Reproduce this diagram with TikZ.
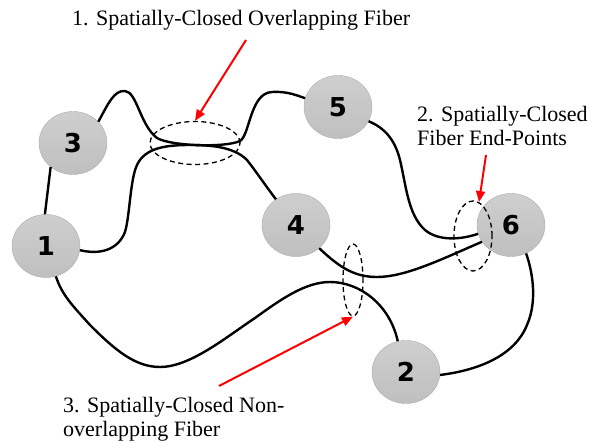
\documentclass[tikz,border=0pt]{standalone}
\usepackage{fontspec}
\setmainfont{Liberation Serif}
\newfontfamily\numfont{DejaVu Sans}
\usetikzlibrary{shapes.geometric}
\usetikzlibrary{arrows.meta}
\newcommand{\labelsize}{\fontsize{22}{24}\selectfont}
\tikzset{fibnode/.style={ellipse,minimum width=68pt,minimum height=63pt,inner sep=0pt,
	draw=gray!65,top color=gray!38,bottom color=gray!50,font=\numfont\bfseries\fontsize{26}{26}\selectfont}}
\tikzset{fiber/.style={color=#1,line width=2.4pt},fiber/.default=black}
\tikzset{zone/.style={ellipse,draw,dashed,dash pattern=on 5pt off 3.5pt,line width=1.3pt,inner sep=0pt}}
\tikzset{pointer/.style={color=#1,line width=2pt,-{Triangle[length=11pt,width=9pt]}},pointer/.default=red}
\tikzset{caption/.style={inner sep=0pt,align=left,font=\labelsize}}

\begin{document}
\begin{tikzpicture}[x=1pt,y=-1pt]

	\useasboundingbox (0,0) rectangle (590,443);

	% The six fiber end nodes
	\node [fibnode] (n3) at (73,143)  {3};
	\node [fibnode] (n1) at (46,246)  {1};
	\node [fibnode] (n4) at (296,225) {4};
	\node [fibnode] (n5) at (338,107) {5};
	\node [fibnode] (n6) at (511,225) {6};
	\node [fibnode] (n2) at (406,372) {2};

	% Fiber from 3 to 5
	\draw [fiber] (n3.40) .. controls (108,104) and (114,90) .. (125,91)
		.. controls (137,92) and (140,125) .. (157,138)
		.. controls (170,146) and (225,148) .. (240,141)
		.. controls (250,135) and (250,93) .. (272,92)
		.. controls (288,91) and (298,96) .. (n5.165);

	% Fiber from 3 to 1
	\draw [fiber] (n3.-133) -- (n1.92);

	% Fiber from 1 to 4
	\draw [fiber] (n1.-7) .. controls (100,255) and (118,250) .. (125,232)
		.. controls (130,215) and (130,180) .. (137,165)
		.. controls (145,148) and (165,145) .. (190,145)
		.. controls (215,145) and (235,148) .. (247,160)
		.. controls (255,170) and (265,185) .. (n4.128);

	% Fiber from 5 to 6
	\draw [fiber] (n5.-25) .. controls (385,128) and (395,140) .. (400,160)
		.. controls (406,185) and (408,215) .. (425,230)
		.. controls (438,241) and (460,240) .. (n6.195);

	% Fiber from 4 to 6
	\draw [fiber] (n4.-45) .. controls (340,268) and (355,277) .. (377,277)
		.. controls (405,277) and (440,260) .. (n6.210);

	% Fiber from 1 to 2
	\draw [fiber] (n1.-72) .. controls (62,295) and (72,305) .. (90,325)
		.. controls (115,350) and (135,367) .. (160,367)
		.. controls (190,367) and (225,338) .. (255,318)
		.. controls (280,300) and (305,282) .. (330,282)
		.. controls (360,282) and (390,305) .. (n2.105);

	% Fiber from 6 to 2
	\draw [fiber] (n6.-62) .. controls (532,270) and (538,300) .. (527,325)
		.. controls (515,355) and (480,370) .. (n2.-5);

	% The dashed zones
	\node [zone,minimum width=90pt,minimum height=43pt] (e1) at (195,143) {};
	\node [zone,minimum width=38pt,minimum height=70pt] (e2) at (473,236) {};
	\node [zone,minimum width=20pt,minimum height=72pt] (e3) at (353,280) {};

	% The captions (base = last line)
	\node [caption,anchor=base west] (lab1) at (72,26)
		{1. Spatially-Closed Overlapping Fiber};
	\node [caption,anchor=base west] (lab2) at (417,146)
		{2. Spatially-Closed\\Fiber End-Points};
	\node [caption,anchor=base west] (lab3) at (63,437)
		{3. Spatially-Closed Non-\\overlapping Fiber};

	% The red pointers
	\coordinate (a1) at (246,40);
	\coordinate (a2) at (486,155);
	\coordinate (a3) at (219,386);
	\draw [pointer] (a1) -- (e1.north);
	\draw [pointer] (a2) -- (e2.80);
	\draw [pointer] (a3) -- (e3.south);

\end{tikzpicture}
\end{document}
